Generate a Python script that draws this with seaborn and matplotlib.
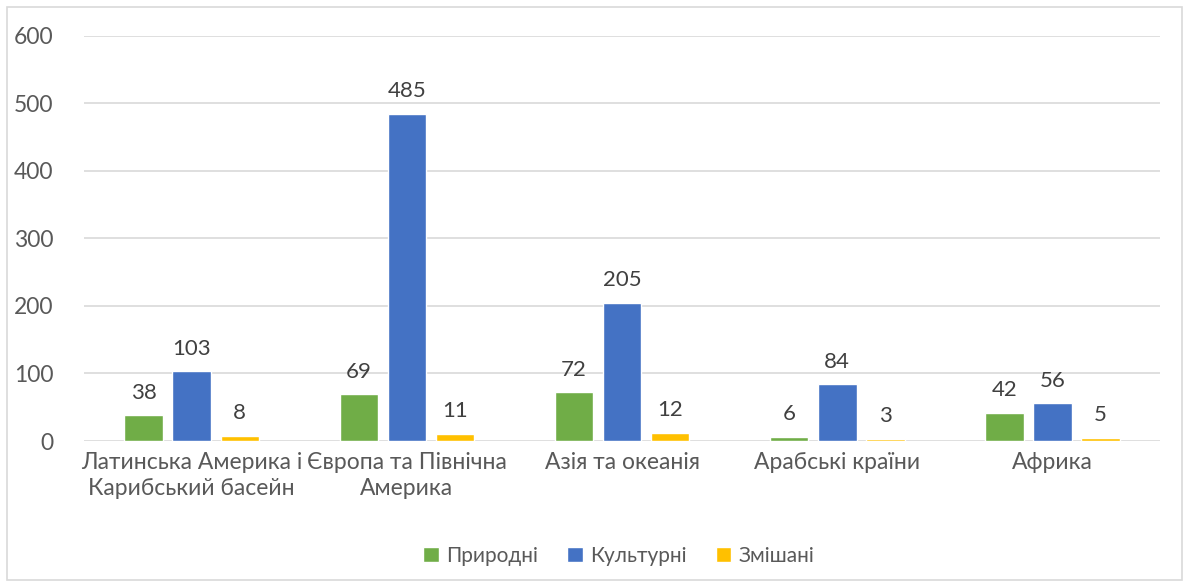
import matplotlib
matplotlib.use("Agg")
import matplotlib.pyplot as plt
import seaborn as sns
import pandas as pd

regions = ["Латинська Америка і\nКарибський басейн", "Європа та Північна\nАмерика",
           "Азія та океанія", "Арабські країни", "Африка"]
series = ["Природні", "Культурні", "Змішані"]
natural = [38, 69, 72, 6, 42]
cultural = [103, 485, 205, 84, 56]
mixed = [8, 11, 12, 3, 5]
colors = ["#70AD47", "#4472C4", "#FFC000"]

df = pd.DataFrame({
    "region": regions * 3,
    "type": [series[0]] * 5 + [series[1]] * 5 + [series[2]] * 5,
    "value": natural + cultural + mixed,
})

sns.set_style("white")
plt.rcParams["font.family"] = ["Lato", "DejaVu Sans"]
text_color = "#595959"

fig = plt.figure(figsize=(11.89, 5.88), dpi=100)
ax = fig.add_axes([0.0707, 0.25, 0.905, 0.6888])

sns.barplot(data=df, x="region", y="value", hue="type", palette=colors,
            saturation=1, width=0.67, gap=0.2, ax=ax, legend=True)

for c in ax.containers:
    ax.bar_label(c, padding=9, fontsize=16, color="#404040")

ax.set_ylim(0, 600)
ax.set_yticks(range(0, 601, 100))
ax.set_xlim(-0.5, 4.5)
ax.yaxis.grid(True, color="#D9D9D9", linewidth=1.2)
ax.set_axisbelow(True)
for s in ax.spines.values():
    s.set_visible(False)
ax.set_xlabel("")
ax.set_ylabel("")
ax.tick_params(axis="both", length=0, labelsize=16.5, colors=text_color)
ax.tick_params(axis="y", pad=22)
ax.tick_params(axis="x", pad=8)
for t in ax.get_xticklabels():
    t.set_linespacing(1.3)

ax.legend(loc="upper center", bbox_to_anchor=(0.497, -0.212), ncol=3, frameon=False,
          fontsize=15, labelcolor=text_color, handlelength=0.75, handleheight=0.75,
          columnspacing=1.4, handletextpad=0.35)

fig.patches.append(plt.Rectangle((0.006, 0.014), 0.988, 0.974, transform=fig.transFigure,
                                 fill=False, edgecolor="#D9D9D9", linewidth=1.2))

fig.savefig("out.png", dpi=100)
